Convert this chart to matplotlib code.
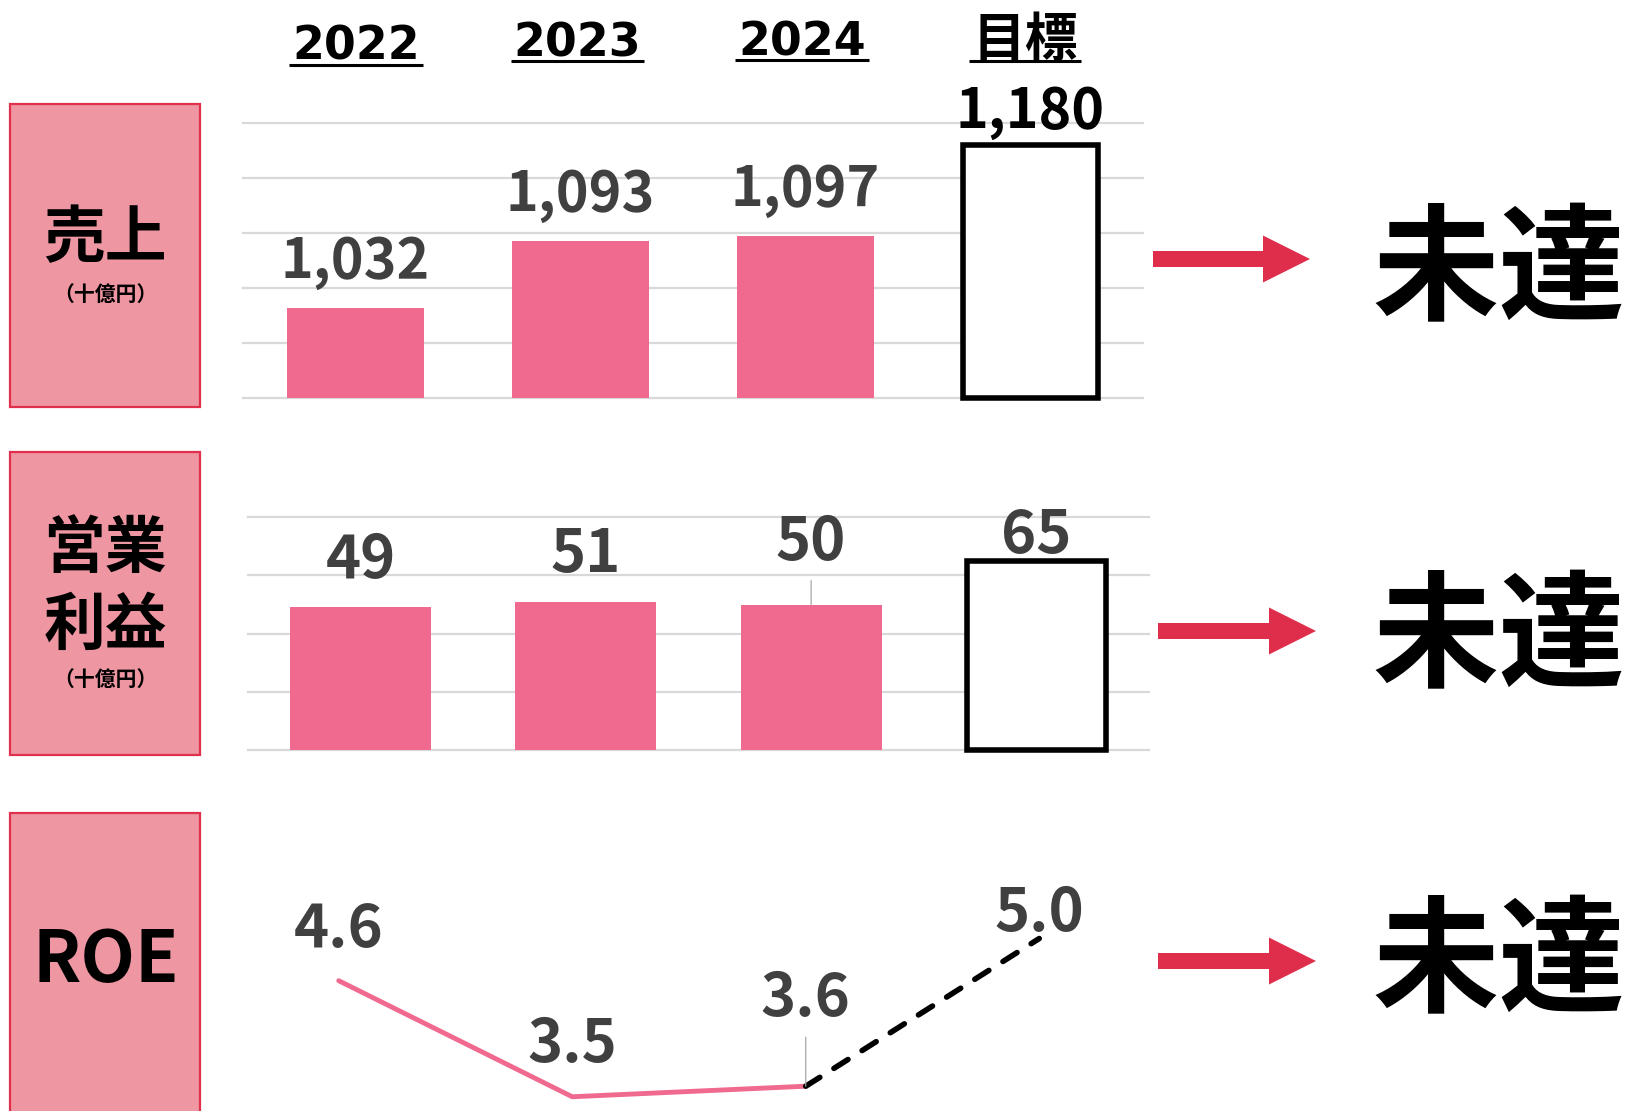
import matplotlib
matplotlib.use("Agg")
import matplotlib.pyplot as plt
from matplotlib.patches import Rectangle, FancyArrow

# ---- data -------------------------------------------------------------
years = ["2022", "2023", "2024"]
target_name = "目標"
sales = [1032, 1093, 1097]          # 売上（十億円）
sales_target = 1180
op_profit = [49, 51, 50]             # 営業利益（十億円）
op_target = 65
roe = [4.6, 3.5, 3.6]                # ROE（%）
roe_target = 5.0
row_titles = [["売上"], ["営業", "利益"], ["ROE"]]
unit_text = "（十億円）"
verdict = "未達"

# ---- style ------------------------------------------------------------
W, H = 1627, 1111
PINK = "#F06A8F"
BOX_FILL = "#EE96A2"
BOX_EDGE = "#E0304E"
ARROW = "#DF2E4C"
LABEL = "#404040"
GRID = "#D9D9D9"
LEADER = "#A6A6A6"
CJK = ["Noto Sans CJK JP", "DejaVu Sans"]

fig = plt.figure(figsize=(W / 100, H / 100), dpi=100)
fig.patch.set_facecolor("white")

# overlay in pixel units for the frame elements
ov = fig.add_axes([0, 0, 1, 1])
ov.set_xlim(0, W)
ov.set_ylim(H, 0)
ov.axis("off")


def axes_px(left, top, right, bottom):
    ax = fig.add_axes([left / W, 1 - bottom / H, (right - left) / W, (bottom - top) / H])
    ax.set_facecolor("none")
    for s in ax.spines.values():
        s.set_visible(False)
    ax.set_xticks([])
    ax.set_yticks([])
    ax.set_xlim(-0.5, 3.5)
    return ax


# ---- row title boxes ----------------------------------------------------
box_specs = [(104, 406.7), (452.3, 755), (812.7, H + 20)]
for top, bottom in box_specs:
    ov.add_patch(Rectangle((10, top), 190, bottom - top, facecolor=BOX_FILL,
                           edgecolor=BOX_EDGE, lw=1.6, zorder=1))

ov.text(105, 257.5, row_titles[0][0], family=CJK, weight="bold", fontsize=44.5,
        ha="center", va="baseline", color="black")
ov.text(105, 301.0, unit_text, family=CJK, weight="bold", fontsize=15,
        ha="center", va="baseline", color="black")
ov.text(105, 566.9, row_titles[1][0], family=CJK, weight="bold", fontsize=44.5,
        ha="center", va="baseline", color="black")
ov.text(105, 643.6, row_titles[1][1], family=CJK, weight="bold", fontsize=44.5,
        ha="center", va="baseline", color="black")
ov.text(105, 685.5, unit_text, family=CJK, weight="bold", fontsize=15,
        ha="center", va="baseline", color="black")
ov.text(105.5, 981.7, row_titles[2][0], family=CJK, weight="bold", fontsize=51,
        ha="center", va="baseline", color="black")

# ---- column headers -----------------------------------------------------
headers = []
for name, cx, base in zip(years, [355.7, 577.5, 801.7], [60.0, 56.7, 55.0]):
    headers.append((ov.text(cx, base, name, family=["DejaVu Sans"], weight="bold",
                            fontsize=33, ha="center", va="baseline", color="black"), base))
headers.append((ov.text(1025, 56, target_name, family=CJK, weight="bold",
                        fontsize=38, ha="center", va="baseline", color="black"), 56))

# ---- 売上 ---------------------------------------------------------------
ax1 = axes_px(243, 123, 1143, 398)
ax1.set_ylim(950, 1200)
for g in range(950, 1201, 50):
    ax1.axhline(g, color=GRID, lw=1.6, zorder=0, clip_on=False)
x_act = list(range(len(years)))
ax1.bar(x_act, [v - 950 for v in sales], bottom=950, width=0.61, color=PINK, zorder=2)
ax1.bar(3, sales_target - 950, bottom=950, width=0.6, facecolor="white",
        edgecolor="black", lw=4, zorder=3, clip_on=False)
for x, v in zip(x_act, sales):
    ax1.annotate(f"{v:,}", xy=(x, v), xytext=(0, 30), textcoords="offset pixels",
                 ha="center", va="baseline", family=CJK, weight="bold",
                 fontsize=40, color=LABEL, annotation_clip=False)
ax1.annotate(f"{sales_target:,}", xy=(3, sales_target), xytext=(0, 17),
             textcoords="offset pixels", ha="center", va="baseline", family=CJK,
             weight="bold", fontsize=40, color="black", annotation_clip=False)

# ---- 営業利益 -----------------------------------------------------------
ax2 = axes_px(248, 517.3, 1149, 750)
ax2.set_ylim(0, 80)
for g in range(0, 81, 20):
    ax2.axhline(g, color=GRID, lw=1.6, zorder=0, clip_on=False)
ax2.bar(x_act, op_profit, width=0.626, color=PINK, zorder=2)
ax2.bar(3, op_target, width=0.615, facecolor="white", edgecolor="black", lw=4,
        zorder=3, clip_on=False)
op_lift = [29.4, 29.3, 44.7]
for x, v, lift in zip(x_act, op_profit, op_lift):
    ax2.annotate(f"{v}", xy=(x, v), xytext=(0, lift), textcoords="offset pixels",
                 ha="center", va="baseline", family=CJK, weight="bold",
                 fontsize=43, color=LABEL, annotation_clip=False)
ax2.annotate("", xy=(2, op_profit[2]), xytext=(0, 24), textcoords="offset pixels",
             arrowprops=dict(arrowstyle="-", color=LEADER, lw=0.9, shrinkA=0, shrinkB=0))
ax2.annotate(f"{op_target}", xy=(3, op_target), xytext=(0, 7.6),
             textcoords="offset pixels", ha="center", va="baseline", family=CJK,
             weight="bold", fontsize=43, color=LABEL, annotation_clip=False)

# ---- ROE ----------------------------------------------------------------
ax3 = axes_px(222, 800, 1156, 1111)
ax3.set_ylim(3.365, 6.313)
ax3.plot(x_act, roe, color=PINK, lw=3.5, solid_capstyle="round",
         solid_joinstyle="round", zorder=2)
ax3.plot([2, 3], [roe[-1], roe_target], color="black", lw=4.0,
         dashes=(3.0, 3.0), dash_capstyle="round", zorder=3)
roe_lift = [34, 35, 70]
for x, v, lift in zip(x_act, roe, roe_lift):
    ax3.annotate(f"{v:.1f}", xy=(x, v), xytext=(0, lift), textcoords="offset pixels",
                 ha="center", va="baseline", family=CJK, weight="bold",
                 fontsize=43, color=LABEL, annotation_clip=False)
ax3.annotate("", xy=(2, roe[2]), xytext=(0, 49), textcoords="offset pixels",
             arrowprops=dict(arrowstyle="-", color=LEADER, lw=0.9, shrinkA=0, shrinkB=0))
ax3.annotate(f"{roe_target:.1f}", xy=(3, roe_target), xytext=(0, 8),
             textcoords="offset pixels", ha="center", va="baseline", family=CJK,
             weight="bold", fontsize=43, color=LABEL, annotation_clip=False)

# ---- arrows and verdicts -------------------------------------------------
for tail, tip, cy, base in [(1153, 1310, 259, 310.5),
                            (1158, 1316, 631, 677.5),
                            (1158, 1316, 961, 1002.5)]:
    ov.add_patch(FancyArrow(tail, cy, tip - tail, 0, width=16, head_width=47,
                            head_length=47, length_includes_head=True,
                            color=ARROW, lw=0, zorder=4))
    ov.text(1499, base, verdict, family=CJK, weight="bold", fontsize=91,
            ha="center", va="baseline", color="black", zorder=4)

# ---- header underlines ---------------------------------------------------
fig.canvas.draw()
renderer = fig.canvas.get_renderer()
for t, base in headers:
    bb = t.get_window_extent(renderer)
    ov.plot([bb.x0 - 3, bb.x1 + 3], [base + 4.5, base + 4.5], color="black",
            lw=2.2, solid_capstyle="butt", zorder=4)

fig.savefig("out.png", dpi=100, facecolor="white")
